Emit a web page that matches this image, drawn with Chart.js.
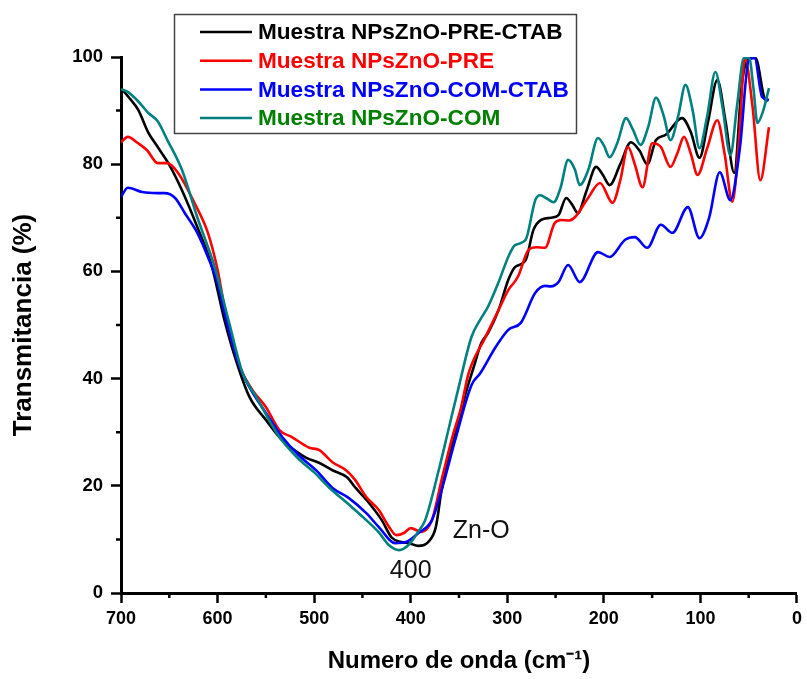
<!DOCTYPE html>
<html>
<head>
<meta charset="utf-8">
<title>Transmitancia NPsZnO</title>
<script src="https://cdn.jsdelivr.net/npm/chart.js@4.4.0/dist/chart.umd.min.js"></script>
<style>
  html, body { margin: 0; padding: 0; background: #fff; }
  #wrap { width: 807px; height: 679px; }
</style>
</head>
<body>
<div id="wrap"><canvas id="ftirChart" width="807" height="679"></canvas></div>
<script>
// Spectra (wavenumber in cm-1, transmittance in %)
const seriesLabels = [
  "Muestra NPsZnO-PRE-CTAB",
  "Muestra NPsZnO-PRE",
  "Muestra NPsZnO-COM-CTAB",
  "Muestra NPsZnO-COM",
];

const preCtabX = [700, 692, 682, 672, 662, 651, 637, 621, 606, 593, 580, 567, 550, 533, 516, 508, 495, 481, 466, 457, 446, 430, 420, 410, 402, 392, 382, 374, 368, 359, 350, 343, 335, 327, 320, 309, 299, 292, 281, 273, 265, 255, 247, 239, 233, 227, 218, 208, 201, 194, 183, 172, 163, 155, 146, 136, 119, 110, 101, 92, 82.5, 74, 65, 57, 49, 43, 34, 31];
const preCtabY = [94.2, 92.5, 90.1, 86, 83.2, 80.2, 75.2, 68.3, 61, 51, 42.9, 36.6, 32.3, 28.5, 26.1, 25.2, 24.3, 22.9, 21.6, 19.6, 17.4, 13.6, 10.4, 9.5, 9.3, 8.8, 9.5, 12.3, 19.2, 26.1, 32.3, 37.3, 42, 46.6, 48.5, 52.8, 58.4, 60.8, 62.1, 67.7, 69.6, 70, 70.5, 73.7, 72.5, 70.9, 75, 79.5, 78, 76.1, 80, 84.1, 82.5, 80, 84.5, 85.5, 88.6, 86, 81.2, 88, 95.7, 88, 78.4, 95.1, 99.8, 99.8, 92.5, 91.6];

const preX = [700, 693, 683, 673, 662, 652, 641, 624, 610, 600, 591, 577, 564, 550, 536, 523, 505, 495, 481, 467, 458, 446, 433, 423, 415, 407, 400, 389, 378, 368, 357, 348, 340, 323, 309, 299, 289, 278, 270, 261, 251, 244, 236, 230, 217, 204, 191, 183, 175, 168, 160, 150, 141, 131, 124, 117, 110, 103, 93, 82.5, 75, 67, 60, 54, 46, 38, 29];
const preY = [84.1, 85.1, 84, 82.6, 80.2, 80.2, 78.4, 72.8, 67.2, 60.3, 51.5, 42.2, 37.9, 34.7, 30.4, 29.1, 27.1, 26.7, 24.4, 22.9, 21.2, 17.9, 15.5, 12.5, 10.8, 11.2, 12.1, 11.4, 13.6, 21.1, 29, 34.5, 41, 47.6, 52.8, 56.5, 59, 64, 64.5, 64.4, 69, 69.6, 69.5, 70.1, 73.5, 76.5, 72.8, 77, 83.2, 80, 75.7, 83.9, 83.2, 79.5, 82, 85.1, 82, 78, 83, 88.2, 82, 73, 84.5, 99.8, 90.7, 77, 86.9];

const comCtabX = [700, 693, 678, 662, 655, 644, 634, 621, 610, 600, 591, 577, 567, 550, 533, 516, 498, 481, 464, 446, 433, 416, 405, 392, 378, 368, 354, 337, 328, 312, 299, 286, 271, 261, 255, 247, 237, 225, 206, 194, 178, 168, 155, 141, 129, 113, 101, 91, 80, 69, 59, 50, 44, 36, 29];
const comCtabY = [73.9, 75.6, 74.8, 74.6, 74.6, 73.7, 70.9, 67.2, 62.7, 57.8, 50.9, 42.2, 38.4, 33.6, 29.1, 25.7, 22.9, 19.6, 17.7, 14.9, 12.3, 9.3, 9.5, 11.2, 13.6, 19.2, 28.5, 38.8, 41, 45.9, 49.1, 50.4, 56, 57.3, 57.2, 58, 61.2, 58, 63.6, 62.7, 65.9, 66.4, 64.4, 68.7, 67.2, 72, 66.2, 70, 78.5, 73.3, 83.2, 99.4, 99.8, 92.5, 92];

const comX = [700, 693, 682, 672, 662, 652, 637, 621, 603, 588, 574, 560, 548, 536, 516, 500, 484, 464, 446, 433, 423, 412, 402, 392, 385, 371, 361, 351, 337, 328, 320, 309, 299, 292, 281, 271, 266, 259, 252, 245, 237, 230, 225, 216, 206, 200, 194, 186, 177, 170, 162, 154, 146, 138, 131, 123, 115.5, 108, 101, 93, 84.5, 77, 69, 62, 55, 49.5, 45, 41, 35, 29];
const comY = [94, 93.5, 91.7, 89.6, 88, 84.5, 79, 70.1, 60.8, 50.4, 41, 36.6, 32.7, 29.1, 25, 22.5, 19.6, 16.5, 13.6, 11.3, 9, 8, 9, 11.5, 13.6, 22.9, 30.4, 37.9, 47.8, 51, 53.4, 58, 62.7, 64.9, 65.9, 73.3, 74.2, 73.6, 72.9, 75.5, 80.8, 79, 76.1, 79, 84.9, 83.5, 81.3, 84, 88.6, 86.5, 83.6, 87, 92.4, 89, 84.5, 89, 94.8, 90, 83, 89, 97.2, 90.5, 81.7, 91, 99.8, 99.8, 94, 87.7, 90, 94.2];

const lineColors = ["#000000", "#ff0000", "#0000ff", "#008080"];
const legendTextColors = ["#000000", "#ff0000", "#0000ff", "#008000"];

// Axis ticks
const xTickStep = 50;
const yTickStep = 10;

// Peak annotations: [text, wavenumber, transmittance]
const peakNotes = [
  ["400", 400, 4.1],
  ["Zn-O", 327, 11.6],
];

const fontFamily = "'Liberation Sans', Arial, Helvetica, sans-serif";

function toPoints(xs, ys) {
  return xs.map((x, i) => ({ x: x, y: ys[i] }));
}

const seriesPoints = [
  toPoints(preCtabX, preCtabY),
  toPoints(preX, preY),
  toPoints(comCtabX, comCtabY),
  toPoints(comX, comY),
];

// short minor ticks between the labelled ones
const minorTicks = {
  id: "minorTicks",
  afterDraw(chart) {
    const { ctx } = chart;
    const xs = chart.scales.x;
    const ys = chart.scales.y;
    ctx.save();
    ctx.strokeStyle = "#000";
    ctx.lineWidth = 2.5;
    ctx.beginPath();
    xs.ticks.forEach((t) => {
      if (t.value % 100 !== 0) {
        const px = xs.getPixelForValue(t.value);
        ctx.moveTo(px, ys.bottom);
        ctx.lineTo(px, ys.bottom + 5);
      }
    });
    ys.ticks.forEach((t) => {
      if (t.value % 20 !== 0) {
        const py = ys.getPixelForValue(t.value);
        ctx.moveTo(xs.left, py);
        ctx.lineTo(xs.left - 5, py);
      }
    });
    ctx.stroke();
    ctx.restore();
  },
};

// boxed legend in the upper part of the plot
const boxLegend = {
  id: "boxLegend",
  afterDraw(chart) {
    const { ctx } = chart;
    ctx.save();
    ctx.fillStyle = "#fff";
    ctx.fillRect(174, 14, 402, 119);
    ctx.strokeStyle = "#444";
    ctx.lineWidth = 1.5;
    ctx.strokeRect(174.5, 14.5, 402, 119);
    ctx.font = "bold 22.6px " + fontFamily;
    ctx.textBaseline = "middle";
    ctx.textAlign = "left";
    chart.data.datasets.forEach((ds, i) => {
      const yRow = 32 + i * 28.7;
      ctx.strokeStyle = ds.borderColor;
      ctx.lineWidth = 2.5;
      ctx.beginPath();
      ctx.moveTo(200, yRow);
      ctx.lineTo(252, yRow);
      ctx.stroke();
      ctx.fillStyle = legendTextColors[i];
      ctx.fillText(ds.label, 258, yRow + 1);
    });
    ctx.restore();
  },
};

// text labels next to the Zn-O band
const peakLabels = {
  id: "peakLabels",
  afterDatasetsDraw(chart) {
    const { ctx } = chart;
    ctx.save();
    ctx.font = "25px " + fontFamily;
    ctx.fillStyle = "#111";
    ctx.textAlign = "center";
    ctx.textBaseline = "middle";
    peakNotes.forEach(([text, xv, yv]) => {
      ctx.fillText(text, chart.scales.x.getPixelForValue(xv), chart.scales.y.getPixelForValue(yv));
    });
    ctx.restore();
  },
};

const ctx = document.getElementById("ftirChart").getContext("2d");
new Chart(ctx, {
  type: "line",
  data: {
    datasets: seriesPoints.map((pts, i) => ({
      label: seriesLabels[i],
      data: pts,
      borderColor: lineColors[i],
      backgroundColor: lineColors[i],
      borderWidth: 2.6,
      pointRadius: 0,
      fill: false,
      cubicInterpolationMode: "monotone",
      order: 4 - i,
    })),
  },
  options: {
    responsive: false,
    animation: false,
    devicePixelRatio: 1,
    layout: { padding: { top: 57, right: 7, left: 0, bottom: 0 } },
    plugins: {
      legend: { display: false },
      tooltip: { enabled: false },
    },
    scales: {
      x: {
        type: "linear",
        reverse: true,
        min: 0,
        max: 700,
        afterFit: (scale) => {
          scale.height = 86;
        },
        border: { display: true, color: "#000", width: 3 },
        grid: {
          drawOnChartArea: false,
          drawTicks: true,
          tickLength: 10,
          tickWidth: 2.5,
          tickColor: (c) => (c.tick && c.tick.value % 100 === 0 ? "#000" : "rgba(0,0,0,0)"),
        },
        ticks: {
          stepSize: xTickStep,
          autoSkip: false,
          maxRotation: 0,
          padding: 5,
          color: "#000",
          font: { family: fontFamily, size: 18, weight: "bold" },
          callback: (v) => (v % 100 === 0 ? v : ""),
        },
        title: {
          display: true,
          text: "Numero de onda (cm\u207B\u00B9)",
          color: "#000",
          font: { family: fontFamily, size: 24, weight: "bold" },
          padding: { top: 0, bottom: 3 },
        },
      },
      y: {
        min: 0,
        max: 100,
        afterFit: (scale) => {
          scale.width = 121;
        },
        border: { display: true, color: "#000", width: 3 },
        grid: {
          drawOnChartArea: false,
          drawTicks: true,
          tickLength: 10,
          tickWidth: 2.5,
          tickColor: (c) => (c.tick && c.tick.value % 20 === 0 ? "#000" : "rgba(0,0,0,0)"),
        },
        ticks: {
          stepSize: yTickStep,
          autoSkip: false,
          padding: 8,
          color: "#000",
          font: { family: fontFamily, size: 18.5, weight: "bold" },
          callback: (v) => (v % 20 === 0 ? v : ""),
        },
        title: {
          display: true,
          text: "Transmitancia (%)",
          color: "#000",
          font: { family: fontFamily, size: 26, weight: "bold" },
          padding: { top: 8, bottom: 0 },
        },
      },
    },
  },
  plugins: [minorTicks, boxLegend, peakLabels],
});
</script>
</body>
</html>
